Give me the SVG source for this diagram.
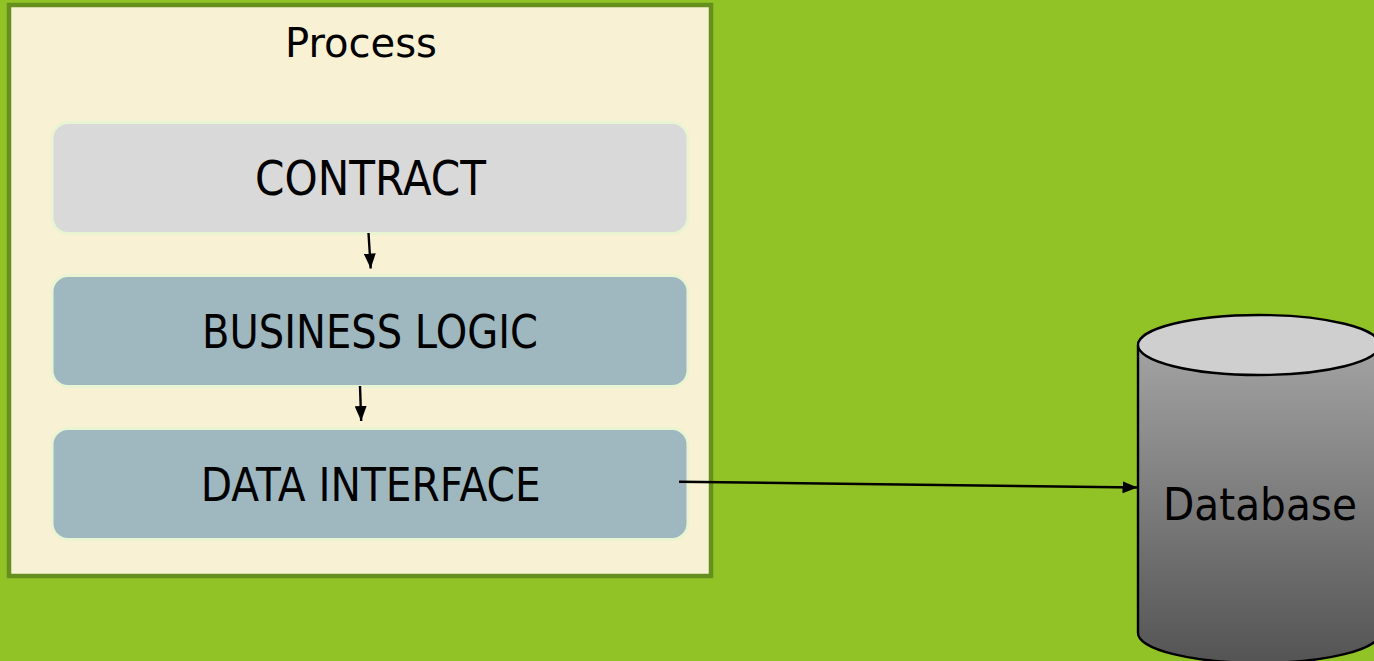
<svg xmlns="http://www.w3.org/2000/svg" width="1374" height="661" viewBox="0 0 1374 661">
<style>
.lbl{font-family:"DejaVu Sans","Open Sans",sans-serif;fill:#000;text-anchor:middle}
.layer{stroke:#e8f4d2;stroke-width:3}
.conn{stroke:#000;stroke-width:2.4;fill:none}
</style>
<defs>
<marker id="arr" viewBox="0 0 15 12" refX="15" refY="6" markerWidth="15" markerHeight="12" markerUnits="userSpaceOnUse" orient="auto">
<path d="M0,0 L15,6 L0,12 Z" fill="#000"/>
</marker>
<linearGradient id="cylBody" x1="0" y1="0" x2="0" y2="1">
<stop offset="0" stop-color="#a3a3a3"/>
<stop offset="1" stop-color="#545454"/>
</linearGradient>
</defs>
<rect x="0" y="0" width="1374" height="661" fill="#91c326"/>
<g id="process">
<rect x="9" y="5" width="702" height="571" fill="#f9f1d4" stroke="#66901d" stroke-width="4.5"/>
<text class="lbl" x="361" y="57" font-size="41" textLength="152" lengthAdjust="spacingAndGlyphs">Process</text>
</g>
<g id="contract">
<rect class="layer" x="52" y="122.5" width="636" height="111" rx="16" fill="#d9d9d9"/>
<text class="lbl" x="370.5" y="195" font-size="48" textLength="231" lengthAdjust="spacingAndGlyphs">CONTRACT</text>
</g>
<g id="business-logic">
<rect class="layer" x="52" y="275.5" width="636" height="111" rx="16" fill="#9fb8bf"/>
<text class="lbl" x="370" y="348" font-size="47" textLength="336" lengthAdjust="spacingAndGlyphs">BUSINESS LOGIC</text>
</g>
<g id="data-interface">
<rect class="layer" x="52" y="428.5" width="636" height="111" rx="16" fill="#9fb8bf"/>
<text class="lbl" x="370.7" y="500.7" font-size="47" textLength="340" lengthAdjust="spacingAndGlyphs">DATA INTERFACE</text>
</g>
<g id="database">
<path d="M1138,345 L1138,633 A121,30 0 0 0 1380,633 L1380,345" fill="url(#cylBody)" stroke="#000" stroke-width="2.4"/>
<ellipse cx="1259" cy="345" rx="121" ry="30" fill="#cfcfcf" stroke="#000" stroke-width="2.4"/>
<text class="lbl" x="1260" y="520" font-size="44" textLength="194" lengthAdjust="spacingAndGlyphs">Database</text>
</g>
<g id="connectors">
<line class="conn" x1="368.5" y1="233" x2="370.7" y2="268.5" marker-end="url(#arr)"/>
<line class="conn" x1="360" y1="386" x2="361.2" y2="421" marker-end="url(#arr)"/>
<line class="conn" x1="679" y1="481.7" x2="1137.5" y2="487.5" marker-end="url(#arr)"/>
</g>
</svg>
